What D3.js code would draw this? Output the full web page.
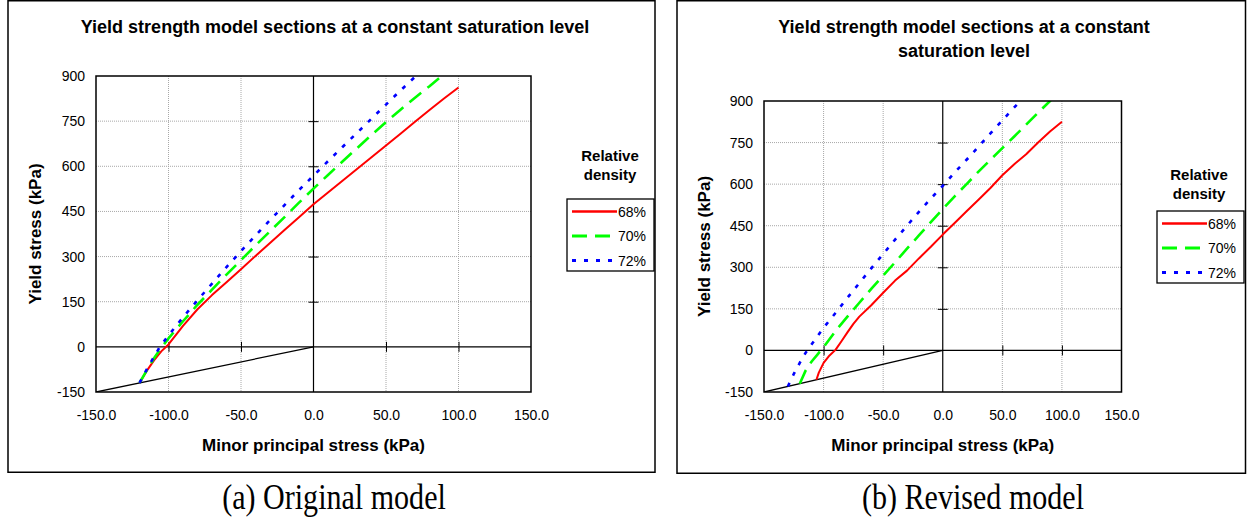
<!DOCTYPE html>
<html><head><meta charset="utf-8">
<script src="https://cdn.jsdelivr.net/npm/d3@7"></script>
<style>
body{margin:0;background:#fff}
svg{display:block}
text{font-family:"Liberation Sans",Arial,sans-serif;fill:#000}
</style>
</head><body>
<svg id="c" width="1247" height="520"></svg>
<script>
// ---------- data ----------
const seriesLabels = ["68%", "70%", "72%"];
const xTickValues = [-150, -100, -50, 0, 50, 100, 150];
const yTickValues = [-150, 0, 150, 300, 450, 600, 750, 900];
const boundaryLine = [[-150, -150], [0, 0]];

// (a) Original model: [minor principal stress, yield stress]
const original68 = [[-120,-120],[-115,-80],[-110,-45],[-105,-15],[-100,8],[-90,70],[-80,125],[-70,172],[-60,215],[-50,258],[-40,302],[-30,345],[-20,388],[-10,431],[0,474],[10,513],[20,552],[30,591],[40,630],[50,669],[60,708],[70,748],[80,787],[90,825],[100,862]];
const original70 = [[-120,-120],[-115,-78],[-110,-38],[-105,-3],[-100,28],[-90,85],[-80,140],[-70,190],[-60,240],[-50,288],[-40,337],[-30,384],[-20,431],[-10,479],[0,526],[10,571],[20,616],[30,660],[40,704],[50,747],[60,788],[70,828],[80,866],[90,906]];
const original72 = [[-120,-120],[-115,-75],[-110,-33],[-106,0],[-100,38],[-90,98],[-80,155],[-70,210],[-60,265],[-50,318],[-40,370],[-30,421],[-20,471],[-10,521],[0,569],[10,617],[20,664],[30,711],[40,758],[50,805],[60,852],[70,897],[80,942]];

// (b) Revised model
const revised68 = [[-106,-106],[-104,-80],[-100,-45],[-95,-18],[-90,2],[-85,33],[-80,65],[-75,96],[-70,122],[-60,163],[-50,208],[-40,252],[-30,288],[-20,332],[-10,374],[0,418],[10,460],[20,502],[30,544],[40,586],[50,632],[60,672],[70,708],[80,750],[90,790],[100,825]];
const revised70 = [[-120,-120],[-115,-72],[-110,-40],[-105,-14],[-100,12],[-90,70],[-80,122],[-70,172],[-60,222],[-50,270],[-40,318],[-30,367],[-20,415],[-10,463],[0,510],[10,556],[20,600],[30,645],[40,688],[50,730],[60,772],[70,815],[80,858],[90,900],[100,942]];
const revised72 = [[-130,-130],[-125,-85],[-120,-45],[-115,-8],[-110,22],[-100,82],[-90,135],[-80,190],[-70,243],[-60,296],[-50,348],[-40,400],[-30,450],[-20,500],[-10,548],[0,594],[10,642],[20,688],[30,735],[40,783],[50,830],[60,877],[70,922]];

const chartTitleLines = ["Yield strength model sections at a constant saturation level"];
const chartTitleLinesB = ["Yield strength model sections at a constant", "saturation level"];
const xAxisTitle = "Minor principal stress (kPa)";
const yAxisTitle = "Yield stress (kPa)";
const legendTitle = ["Relative", "density"];
const captions = ["(a) Original model", "(b) Revised model"];

// ---------- styles ----------
const seriesColors = ["#ff0000", "#00ff00", "#0000ff"];
const seriesDash = [null, "15,8", "4,8"];
const seriesWidth = [2, 2.6, 2.6];

const svg = d3.select("#c");

function drawChart(o) {
  const g = svg.append("g");
  // outer frame
  g.append("rect").attr("x", o.box[0]).attr("y", o.box[1]).attr("width", o.box[2]).attr("height", o.box[3])
    .attr("fill", "#fff").attr("stroke", "#000").attr("stroke-width", 1.5);

  const x = d3.scaleLinear().domain([-150, 150]).range([o.x0, o.x1]);
  const y = d3.scaleLinear().domain([-150, 900]).range([o.y1, o.y0]);

  // gridlines
  g.append("g").selectAll("line").data(xTickValues.filter(v => v !== -150 && v !== 0 && v !== 150)).join("line")
    .attr("x1", d => x(d)).attr("x2", d => x(d)).attr("y1", o.y0).attr("y2", o.y1)
    .attr("stroke", "#a8a8a8").attr("stroke-width", 1).attr("stroke-dasharray", "1,1");
  g.append("g").selectAll("line").data(yTickValues.filter(v => v !== -150 && v !== 0 && v !== 900)).join("line")
    .attr("x1", o.x0).attr("x2", o.x1).attr("y1", d => y(d)).attr("y2", d => y(d))
    .attr("stroke", "#a8a8a8").attr("stroke-width", 1).attr("stroke-dasharray", "1,1");

  // zero axes with cross ticks
  const yInner = yTickValues.filter(v => v !== -150 && v !== 0 && v !== 900);
  const xInner = xTickValues.filter(v => v !== -150 && v !== 0 && v !== 150);
  g.append("g").attr("transform", `translate(${x(0)},0)`)
    .call(d3.axisRight(y).tickValues(yInner).tickSize(5).tickFormat(""))
    .call(s => s.select(".domain").remove());
  g.append("g").attr("transform", `translate(${x(0)},0)`)
    .call(d3.axisLeft(y).tickValues(yInner).tickSize(5).tickFormat(""))
    .call(s => s.select(".domain").remove());
  g.append("g").attr("transform", `translate(0,${y(0)})`)
    .call(d3.axisBottom(x).tickValues(xInner).tickSize(5).tickFormat(""))
    .call(s => s.select(".domain").remove());
  g.append("g").attr("transform", `translate(0,${y(0)})`)
    .call(d3.axisTop(x).tickValues(xInner).tickSize(5).tickFormat(""))
    .call(s => s.select(".domain").remove());
  g.selectAll(".tick line").attr("stroke", "#000").attr("stroke-width", 1);
  g.append("line").attr("x1", x(0)).attr("x2", x(0)).attr("y1", o.y0).attr("y2", o.y1).attr("stroke", "#000").attr("stroke-width", 1.2);
  g.append("line").attr("x1", o.x0).attr("x2", o.x1).attr("y1", y(0)).attr("y2", y(0)).attr("stroke", "#000").attr("stroke-width", 1.2);

  // clip
  const cid = "clip" + o.id;
  g.append("clipPath").attr("id", cid).append("rect")
    .attr("x", o.x0).attr("y", o.y0).attr("width", o.x1 - o.x0).attr("height", o.y1 - o.y0);
  const plot = g.append("g").attr("clip-path", `url(#${cid})`);
  const line = d3.line().x(d => x(d[0])).y(d => y(d[1]));
  plot.append("path").attr("d", line(boundaryLine)).attr("fill", "none").attr("stroke", "#000").attr("stroke-width", 1.3);
  o.series.forEach((s, i) => {
    plot.append("path").attr("d", line(s)).attr("fill", "none")
      .attr("stroke", seriesColors[i]).attr("stroke-width", seriesWidth[i])
      .attr("stroke-dasharray", seriesDash[i]).attr("stroke-linejoin", "round");
  });

  // plot border
  g.append("rect").attr("x", o.x0).attr("y", o.y0).attr("width", o.x1 - o.x0).attr("height", o.y1 - o.y0)
    .attr("fill", "none").attr("stroke", "#000").attr("stroke-width", 1.5);

  // tick labels
  const ya = g.append("g").attr("transform", `translate(${o.x0},0)`)
    .call(d3.axisLeft(y).tickValues(yTickValues).tickSize(0).tickPadding(o.x0 - o.yLabelRight).tickFormat(d => String(d)));
  ya.select(".domain").remove();
  ya.selectAll("text").attr("font-size", 14).attr("font-family", '"Liberation Sans",Arial,sans-serif').attr("fill", "#000");
  const xa = g.append("g").attr("transform", `translate(0,${o.y1})`)
    .call(d3.axisBottom(x).tickValues(xTickValues).tickSize(0).tickPadding(18).tickFormat(d => d.toFixed(1)));
  xa.select(".domain").remove();
  xa.selectAll("text").attr("font-size", 14).attr("font-family", '"Liberation Sans",Arial,sans-serif').attr("fill", "#000");

  // titles
  o.title.forEach((t, i) => {
    g.append("text").attr("x", o.titleX).attr("y", 33 + i * 24).attr("text-anchor", "middle")
      .attr("font-size", 18).attr("font-weight", "bold").text(t);
  });
  g.append("text").attr("x", (o.x0 + o.x1) / 2).attr("y", 451).attr("text-anchor", "middle")
    .attr("font-size", 17).attr("font-weight", "bold").text(xAxisTitle);
  g.append("text").attr("transform", `translate(${o.yTitleX},${(o.y0 + o.y1) / 2}) rotate(-90)`)
    .attr("text-anchor", "middle").attr("font-size", 17).attr("font-weight", "bold").text(yAxisTitle);

  // legend
  legendTitle.forEach((t, i) => {
    g.append("text").attr("x", o.legTitleX).attr("y", o.legTitleY + i * 19).attr("text-anchor", "middle")
      .attr("font-size", 15).attr("font-weight", "bold").text(t);
  });
  const L = o.leg;
  g.append("rect").attr("x", L.x).attr("y", L.y).attr("width", L.w).attr("height", L.h)
    .attr("fill", "#fff").attr("stroke", "#000").attr("stroke-width", 1.3);
  seriesLabels.forEach((lab, i) => {
    const yy = L.y + 12.5 + i * 24.5;
    g.append("line").attr("x1", L.x + 5).attr("x2", L.x + 50).attr("y1", yy).attr("y2", yy)
      .attr("stroke", seriesColors[i]).attr("stroke-width", seriesWidth[i] + 0.4)
      .attr("stroke-dasharray", seriesDash[i]);
    g.append("text").attr("x", L.x + 51).attr("y", yy + 5).attr("font-size", 14).text(lab);
  });

  // caption
  svg.append("text").attr("transform", `translate(${o.capX},509) scale(0.97,1.14)`).attr("text-anchor", "middle")
    .style("font-family", '"Liberation Serif","Times New Roman",serif')
    .attr("font-size", 31).text(o.caption);
}

drawChart({
  id: "a", box: [8, 0.75, 647, 471.5],
  x0: 96, x1: 531, y0: 76, y1: 392, yLabelRight: 85,
  title: chartTitleLines, titleX: 335, yTitleX: 41,
  legTitleX: 610, legTitleY: 161, leg: {x: 567, y: 199, w: 87, h: 72},
  series: [original68, original70, original72],
  caption: captions[0], capX: 334
});
drawChart({
  id: "b", box: [677, 0.75, 568.5, 472.5],
  x0: 764, x1: 1121.5, y0: 101, y1: 392, yLabelRight: 753,
  title: chartTitleLinesB, titleX: 964, yTitleX: 710,
  legTitleX: 1199, legTitleY: 180, leg: {x: 1157, y: 211, w: 87, h: 72},
  series: [revised68, revised70, revised72],
  caption: captions[1], capX: 973
});
</script>
</body></html>
